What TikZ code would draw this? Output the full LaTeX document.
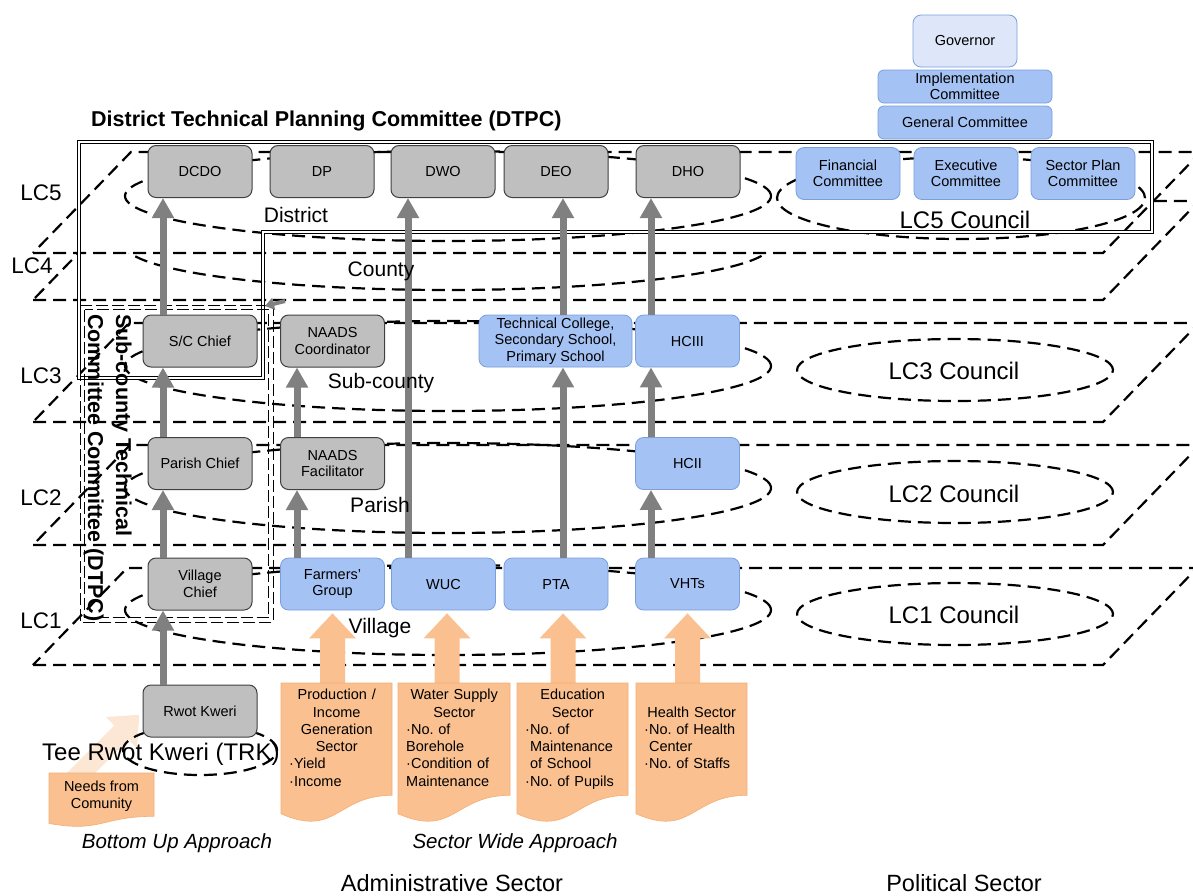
\documentclass[tikz,border=0pt]{standalone}
\usepackage{fontspec}
\setmainfont{Liberation Sans}
\usetikzlibrary{arrows.meta}
\frenchspacing

\definecolor{boxgray}{HTML}{BFBFBF}
\definecolor{boxedge}{HTML}{404040}
\definecolor{boxblue}{HTML}{A4C2F4}
\definecolor{blueedge}{HTML}{7A9FDA}
\definecolor{govfill}{HTML}{DDE7F9}
\definecolor{arrowgray}{HTML}{808080}
\definecolor{orangefill}{HTML}{FAC08F}
\definecolor{orangeedge}{HTML}{F4AE74}
\definecolor{paleorange}{HTML}{FCE6D4}

\tikzset{
  x=1pt, y=1pt,
  plane/.style={draw=black, fill=white, line width=2.2pt, dash pattern=on 13pt off 7pt},
  lvl/.style={draw=black, line width=2.2pt, dash pattern=on 13pt off 7pt},
  box/.style={rounded corners=8pt, minimum width=104pt, minimum height=52pt,
    align=center, inner sep=1.5pt, font=\fontsize{14.5}{16.6}\selectfont},
  gbox/.style={box, fill=boxgray, draw=boxedge, line width=1pt},
  bbox/.style={box, fill=boxblue, draw=blueedge, line width=0.8pt},
  uparrow/.style={draw=arrowgray, line width=7pt, -{Triangle[length=20pt,width=21pt]}},
  dtpc/.style={draw=black, double=white, double distance=1.8pt, line width=1pt},
  scframe/.style={draw=black, line width=1pt, dash pattern=on 12pt off 4pt},
  doc/.style={fill=orangefill, draw=orangeedge, line width=0.6pt},
  sectortext/.style={anchor=north west, align=left, inner xsep=8pt, inner ysep=6pt,
    font=\fontsize{14.5}{17.3}\selectfont},
  lvltxt/.style={anchor=base, font=\fontsize{22.5}{24}\selectfont},
  areatxt/.style={anchor=base, font=\fontsize{21}{24}\selectfont},
  counciltxt/.style={anchor=base, font=\fontsize{24}{26}\selectfont},
  approach/.style={anchor=base, font=\itshape\fontsize{20.5}{22}\selectfont},
  sectortitle/.style={anchor=base, font=\fontsize{23.5}{26}\selectfont},
}

% one local-council level: a dashed, white parallelogram between two heights
\newcommand\lcplane[2]{%
  \path[plane] (33,-#2) -- (1103,-#2) -- ({1103+0.97*(#2-#1)},-#1)
    -- ({33+0.97*(#2-#1)},-#1) -- cycle;}

% flow-chart "document" sheet: style, left, top, width, height
\newcommand\docshape[5]{%
  \draw[#1] (#2,-#3) -- ({#2+#4},-#3) -- ({#2+#4},{-#3-0.802*#5})
    .. controls ({#2+0.5*#4},{-#3-0.802*#5}) and ({#2+0.5*#4},{-#3-1.1075*#5})
    .. (#2,{-#3-0.934*#5}) -- cycle;}

% broad orange arrow, given by its tip
\newcommand\blockup[1]{%
  \fill[orangefill] #1 -- ++(23.5,-25) -- ++(-11,0) -- ++(0,-45) -- ++(-25,0)
    -- ++(0,45) -- ++(-11,0) -- cycle;}

\newcommand\ctr[1]{\makebox[\linewidth]{#1}}
\newcommand\ind{\phantom{·}}

\begin{document}
\begin{tikzpicture}
\useasboundingbox (0,0) rectangle (1193,-895);
\clip (0,0) rectangle (1193,-895);

% ---- levels, bottom to top, each with its areas ----
\lcplane{568}{665}
\draw[lvl] (448,-610) ellipse [x radius=323, y radius=45];
\draw[lvl] (955,-614) ellipse [x radius=158, y radius=31];

\lcplane{445}{545}
\draw[lvl] (448,-488) ellipse [x radius=323, y radius=45];
\draw[lvl] (955,-492) ellipse [x radius=158, y radius=31];

\lcplane{323}{422}
\draw[lvl] (448,-366) ellipse [x radius=323, y radius=45];
\draw[lvl] (955,-370) ellipse [x radius=158, y radius=31];

\lcplane{201}{300}
\draw[lvl] (448,-245) ellipse [x radius=323, y radius=45];

\lcplane{152}{253}
\draw[lvl] (448,-196) ellipse [x radius=323, y radius=45];
\draw[lvl] (961,-198) ellipse [x radius=184, y radius=41];

% ---- community input towards the Tee Rwot Kweri ----
\begin{scope}[shift={(72,-782)}, rotate=45]
  \fill[paleorange] (0,-10) -- (70,-10) -- (70,-22) -- (95,0) -- (70,22) -- (70,10) -- (0,10) -- cycle;
\end{scope}
\draw[lvl] (200,-750) ellipse [x radius=77, y radius=25];
\node[anchor=base west, font=\fontsize{24}{26}\selectfont, inner sep=0pt] (trk) at (42,-760) {Tee Rwot Kweri (TRK)};

% ---- committee frames ----
\draw[dtpc] (79,-142) -- (1152,-142) -- (1152,-232) -- (263,-232) -- (263,-378) -- (79,-378) -- cycle;
\draw[scframe] (80,-305) rectangle (273,-622);
\draw[scframe] (84.5,-309.5) rectangle (268.5,-617.5);
\node[rotate=-90, anchor=north west, align=left, inner sep=0pt,
      font=\bfseries\fontsize{21.5}{28}\selectfont] (sctc) at (132,-314)
  {Sub-county Technical\\Committee Committee (DTPC)};

% ---- boxes ----
\node[gbox] (dcdo) at (200,-171.5) {DCDO};
\node[gbox] (dp)   at (322,-171.5) {DP};
\node[gbox] (dwo)  at (443,-171.5) {DWO};
\node[gbox] (deo)  at (556,-171.5) {DEO};
\node[gbox] (dho)  at (688,-171.5) {DHO};

\node[box, fill=govfill, draw=blueedge, line width=0.8pt] (gov) at (965,-41) {Governor};
\node[bbox, minimum width=174pt, minimum height=33pt, rounded corners=6pt] (imp) at (965,-86.5) {Implementation\\Committee};
\node[bbox, minimum width=174pt, minimum height=33pt, rounded corners=6pt] (gen) at (965,-122.5) {General Committee};
\node[bbox] (fin) at (848,-173.5) {Financial\\Committee};
\node[bbox] (exe) at (966,-173.5) {Executive\\Committee};
\node[bbox] (spc) at (1083,-173.5) {Sector Plan\\Committee};

\node[gbox, minimum width=114pt] (sc) at (200,-341) {S/C Chief};
\node[gbox] (nc) at (332.5,-341) {NAADS\\Coordinator};
\node[bbox, minimum width=153pt] (tc) at (555.5,-341) {Technical College,\\Secondary School,\\Primary School};
\node[bbox] (hc3) at (687.5,-341) {HCIII};

\node[gbox] (pc) at (200,-463.5) {Parish Chief};
\node[gbox] (nf) at (332.5,-463.5) {NAADS\\Facilitator};
\node[bbox] (hc2) at (687.5,-463.5) {HCII};

\node[gbox] (vc)  at (200,-584) {Village\\Chief};
\node[bbox] (fg)  at (332.5,-584) {Farmers’\\Group};
\node[bbox] (wuc) at (443.5,-584) {WUC};
\node[bbox] (pta) at (556,-584) {PTA};
\node[bbox] (vht) at (687.5,-584) {VHTs};

\node[gbox, minimum width=114pt] (rk) at (200,-711) {Rwot Kweri};

% ---- reporting lines ----
\draw[uparrow] ([xshift=-37pt]rk.north) -- ([xshift=-37pt]vc.south);
\draw[uparrow] ([xshift=-37pt]vc.north) -- ([xshift=-37pt]pc.south);
\draw[uparrow] ([xshift=-37pt]pc.north) -- ([xshift=-37pt]sc.south);
\draw[uparrow] ([xshift=-37pt]sc.north) -- ([xshift=-37pt]dcdo.south);
\draw[uparrow] ([xshift=-35.5pt]fg.north) -- ([xshift=-35.5pt]nf.south);
\draw[uparrow] ([xshift=-35.5pt]nf.north) -- ([xshift=-35.5pt]nc.south);
\draw[uparrow] ([xshift=-35.5pt]wuc.north) -- ([xshift=-35pt]dwo.south);
\draw[uparrow] ([xshift=7pt]pta.north) -- ([xshift=7.5pt]tc.south);
\draw[uparrow] ([xshift=7.5pt]tc.north) -- ([xshift=7pt]deo.south);
\draw[uparrow] ([xshift=-36.5pt]vht.north) -- ([xshift=-36.5pt]hc2.south);
\draw[uparrow] ([xshift=-36.5pt]hc2.north) -- ([xshift=-36.5pt]hc3.south);
\draw[uparrow] ([xshift=-36.5pt]hc3.north) -- ([xshift=-37pt]dho.south);
\coordinate (stubA) at (285,-301);
\coordinate (stubB) at (265,-306);
\draw[draw=arrowgray, line width=4pt, -{Triangle[length=9pt,width=12pt]}] (stubA) -- (stubB);

% ---- sector inputs ----
\blockup{([yshift=-3pt]fg.south)}
\blockup{([shift={(3.5pt,-3pt)}]wuc.south)}
\blockup{([shift={(7pt,-3pt)}]pta.south)}
\blockup{([yshift=-3pt]vht.south)}

\docshape{doc}{281}{683}{111}{140}
\docshape{doc}{398}{683}{112}{140}
\docshape{doc}{517}{683}{111}{140}
\docshape{doc}{636}{683}{111}{140}
\docshape{doc}{49}{773}{105}{54}

\node[sectortext, text width=95pt] (prod) at (281,-683)
  {\ctr{Production /}\\\ctr{Income}\\\ctr{Generation}\\\ctr{Sector}\\·Yield\\·Income};
\node[sectortext, text width=96pt] (water) at (398,-683)
  {\ctr{Water Supply}\\\ctr{Sector}\\·No. of\\Borehole\\·Condition of\\Maintenance};
\node[sectortext, text width=95pt] (edu) at (517,-683)
  {\ctr{Education}\\\ctr{Sector}\\·No. of\\\ind Maintenance\\\ind of School\\·No. of Pupils};
\node[sectortext, text width=95pt] (health) at (636,-700.3)
  {\ctr{Health Sector}\\·No. of Health\\\ind Center\\·No. of Staffs};
\node[align=center, font=\fontsize{14.5}{17}\selectfont] (needs) at (101.5,-796)
  {Needs from\\Comunity};

% ---- titles and labels ----
\node[anchor=base west, inner sep=0pt, font=\bfseries\fontsize{21.5}{24}\selectfont] (title) at (91,-126)
  {District Technical Planning Committee (DTPC)};

\node[lvltxt] (lc5) at (41,-200) {LC5};
\node[lvltxt] (lc4) at (32,-273) {LC4};
\node[lvltxt] (lc3) at (41,-383) {LC3};
\node[lvltxt] (lc2) at (41,-505) {LC2};
\node[lvltxt] (lc1) at (41,-628) {LC1};

\node[areatxt] (district)  at (296,-222) {District};
\node[areatxt] (county)    at (381,-276) {County};
\node[areatxt] (subcounty) at (381,-388) {Sub-county};
\node[areatxt] (parish)    at (380,-512) {Parish};
\node[areatxt] (village)   at (380,-633) {Village};

\node[counciltxt] (c5) at (965,-228) {LC5 Council};
\node[counciltxt] (c3) at (954,-379) {LC3 Council};
\node[counciltxt] (c2) at (954,-502) {LC2 Council};
\node[counciltxt] (c1) at (954,-623) {LC1 Council};

\node[approach] (bua) at (177,-848) {Bottom Up Approach};
\node[approach] (swa) at (515,-848) {Sector Wide Approach};
\node[sectortitle] (adm) at (452,-891) {Administrative Sector};
\node[sectortitle] (pol) at (964,-891) {Political Sector};
\end{tikzpicture}
\end{document}
